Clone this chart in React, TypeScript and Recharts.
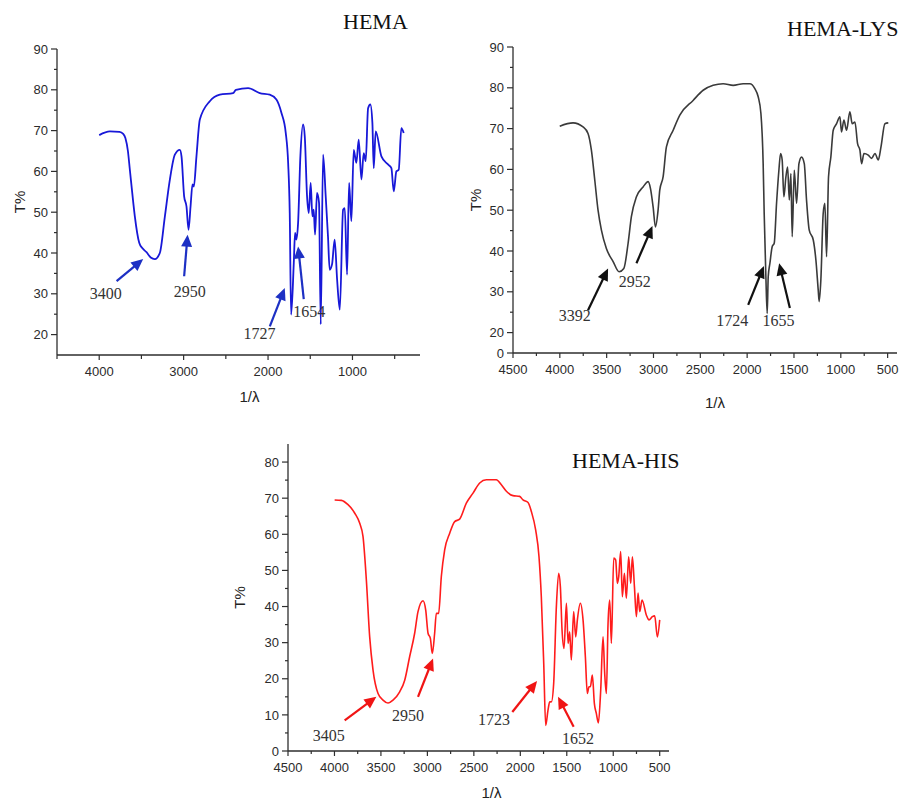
import { LineChart, Line, XAxis, YAxis, ReferenceLine, ReferenceDot } from 'recharts';

type Pt = [number, number];

// FTIR spectra: [wavenumber (cm-1), transmittance %]
const hemaSpectrum: Pt[] = [
  [4000, 68.9], [3874, 69.8], [3760, 69.7], [3716, 69.2], [3690, 68.2], [3660, 65], [3637, 60.4],
  [3600, 53], [3578, 49], [3526, 42.5], [3490, 41.2], [3440, 40.2], [3390, 38.9], [3341, 38.5],
  [3282, 40], [3222, 49], [3163, 58], [3104, 64.1], [3045, 65.3], [3025, 63.7], [2994, 53.9],
  [2966, 51.4], [2942, 45.7], [2918, 51.4], [2895, 56.8], [2879, 56.3], [2848, 63.7], [2808, 72.7],
  [2690, 77.2], [2571, 78.8], [2414, 79.2], [2380, 80], [2236, 80.4], [2098, 79.2], [1980, 78.8],
  [1901, 77.6], [1841, 74.3], [1790, 69.4], [1762, 62.1], [1743, 49.8], [1727, 24.9], [1695, 37.6],
  [1680, 44.9], [1664, 43.3], [1644, 47.4], [1617, 63.7], [1585, 71.5], [1565, 68.6], [1538, 53.9],
  [1518, 49.8], [1495, 57.2], [1475, 49], [1459, 50.6], [1443, 44.5], [1420, 54.7], [1396, 52.3],
  [1376, 22.5], [1348, 64.1], [1317, 53.9], [1290, 44.1], [1270, 35.9], [1242, 37.2], [1211, 43.3],
  [1182, 33.5], [1150, 26.1], [1111, 50.6], [1091, 51], [1064, 34.7], [1040, 57.2], [1013, 47.8],
  [985, 65.3], [954, 62.1], [926, 67.8], [894, 58], [867, 64.5], [843, 62.5], [815, 75.5],
  [788, 76.4], [764, 71.9], [748, 60.8], [725, 69.8], [657, 63.7], [579, 61.7], [539, 60.8],
  [511, 55.1], [480, 60], [452, 60.4], [421, 70.6], [393, 69.4],
];

const lysSpectrum: Pt[] = [
  [4001, 70.6], [3859, 71.4], [3752, 70.4], [3699, 68.8], [3663, 64.7], [3627, 57.4], [3592, 50],
  [3556, 45.1], [3503, 40.6], [3431, 37.4], [3367, 34.9], [3317, 35.7], [3271, 41.9], [3236, 48.4],
  [3182, 53.3], [3111, 55.7], [3057, 57], [3032, 55.3], [3004, 50.8], [2979, 45.9], [2951, 50],
  [2933, 54.9], [2897, 58.2], [2862, 65.5], [2790, 69.6], [2719, 73.3], [2577, 76.9], [2470, 79.4],
  [2363, 80.6], [2256, 81], [2149, 80.6], [2042, 81], [1971, 81], [1918, 79.8], [1882, 77.8],
  [1853, 73.7], [1829, 61.4], [1818, 49.2], [1800, 33.7], [1786, 24.7], [1775, 33.7], [1757, 37],
  [1732, 41.1], [1711, 41.9], [1686, 51.7], [1661, 59.8], [1643, 63.9], [1626, 62.3], [1608, 53.3],
  [1586, 58.2], [1568, 60.6], [1550, 52.5], [1533, 59], [1519, 43.5], [1497, 59.8], [1472, 51.7],
  [1447, 61.4], [1419, 63], [1390, 61.4], [1366, 52.5], [1337, 45.1], [1294, 42.7], [1266, 37.8],
  [1241, 30.4], [1231, 27.6], [1213, 32.9], [1188, 49.2], [1170, 51.7], [1152, 38.6], [1131, 58.2],
  [1106, 63.1], [1081, 69.6], [1045, 71.2], [1010, 72.9], [992, 69.2], [967, 72.1], [939, 69.6],
  [903, 74.1], [878, 71.2], [849, 71.6], [821, 66.3], [796, 64.7], [778, 61.4], [753, 63.9],
  [707, 63.5], [671, 62.7], [635, 63.9], [600, 62.3], [571, 65.5], [529, 71.2], [493, 71.4],
];

const hisSpectrum: Pt[] = [
  [3998, 69.5], [3926, 69.4], [3854, 68.2], [3783, 65.9], [3729, 63.1], [3693, 59.4], [3657, 47.4],
  [3621, 31.6], [3585, 22.4], [3531, 15.9], [3478, 14.1], [3424, 13.3], [3370, 14.1], [3298, 16.4],
  [3244, 19.6], [3191, 26.1], [3137, 32.6], [3101, 38.6], [3047, 41.6], [3018, 39], [2993, 32.6],
  [2968, 31.2], [2947, 27], [2922, 32.6], [2904, 38.1], [2879, 38.1], [2850, 48.3], [2814, 55.7],
  [2760, 60.3], [2706, 63.5], [2653, 64.2], [2581, 68.6], [2509, 71.4], [2437, 74.2], [2366, 75.1],
  [2258, 75.1], [2204, 73.7], [2150, 71.9], [2079, 70.7], [2007, 70.5], [1971, 69.5], [1917, 68.8],
  [1881, 66.3], [1835, 61.2], [1799, 53.8], [1774, 42.7], [1748, 24.2], [1727, 7.1], [1702, 11.3],
  [1684, 13.6], [1666, 13.6], [1641, 18.7], [1612, 40], [1587, 49.2], [1569, 45.5], [1551, 33.5],
  [1530, 28.4], [1504, 40.9], [1486, 29.8], [1469, 33], [1451, 25.2], [1426, 38.6], [1404, 31.6],
  [1386, 36.3], [1354, 40.9], [1325, 36.3], [1300, 26.1], [1279, 15.9], [1261, 17.8], [1246, 17.8],
  [1225, 21], [1203, 13.1], [1182, 10.4], [1160, 7.8], [1135, 16.8], [1110, 31.6], [1092, 21.5],
  [1074, 15.9], [1056, 35.3], [1038, 41.8], [1020, 29.8], [995, 53.4], [974, 52.9], [956, 46.4],
  [941, 48.3], [920, 55.2], [902, 42.7], [880, 49.2], [859, 42.3], [834, 53.8], [812, 46.4],
  [794, 53.8], [772, 45.5], [751, 37.2], [733, 43.7], [715, 38.6], [690, 41.8], [643, 37.6],
  [615, 36.3], [579, 37.2], [554, 37.4], [525, 31.6], [500, 36.3],
];

// peak callouts: label position, arrow tail (x1,y1) -> head (x2,y2), in data units
const hemaPeaks = [
  { text: '3400', lx: 3923, ly: 30, x1: 3794, y1: 33.1, x2: 3479, y2: 38.5 },
  { text: '2950', lx: 2926, ly: 30.5, x1: 2994, y1: 34.3, x2: 2953, y2: 44.5 },
  { text: '1727', lx: 2101, ly: 20.4, x1: 1979, y1: 22, x2: 1802, y2: 31.4 },
  { text: '1654', lx: 1512, ly: 25.7, x1: 1577, y1: 28.7, x2: 1644, y2: 41.6 },
];
const lysPeaks = [
  { text: '3392', lx: 3841, ly: 24.3, x1: 3699, y1: 25.5, x2: 3485, y2: 35.7 },
  { text: '2952', lx: 3200, ly: 32.5, x1: 3182, y1: 37, x2: 3011, y2: 46.1 },
  { text: '1724', lx: 2160, ly: 23.1, x1: 1989, y1: 26.8, x2: 1821, y2: 36.3 },
  { text: '1655', lx: 1665, ly: 23.1, x1: 1544, y1: 26, x2: 1658, y2: 37 },
];
const hisPeaks = [
  { text: '3405', lx: 4062, ly: 4.3, x1: 3890, y1: 8.5, x2: 3549, y2: 15 },
  { text: '2950', lx: 3209, ly: 9.9, x1: 3101, y1: 15, x2: 2939, y2: 25.6 },
  { text: '1723', lx: 2283, ly: 8.7, x1: 2086, y1: 10.8, x2: 1820, y2: 19.4 },
  { text: '1652', lx: 1379, ly: 3.4, x1: 1426, y1: 6.7, x2: 1594, y2: 15 },
];

// axis ticks
const hemaXTicks = [4500, 4000, 3500, 3000, 2500, 2000, 1500, 1000, 500];
const hemaXLabels = [4000, 3000, 2000, 1000];
const hemaYTicks = [20, 25, 30, 35, 40, 45, 50, 55, 60, 65, 70, 75, 80, 85, 90];
const hemaYLabels = [20, 30, 40, 50, 60, 70, 80, 90];

const wideXTicks = [4500, 4250, 4000, 3750, 3500, 3250, 3000, 2750, 2500, 2250, 2000, 1750, 1500, 1250, 1000, 750, 500];
const wideXLabels = [4500, 4000, 3500, 3000, 2500, 2000, 1500, 1000, 500];

const lysYTicks = [15, 20, 25, 30, 35, 40, 45, 50, 55, 60, 65, 70, 75, 80, 85, 90];
const lysYLabels = [15, 20, 30, 40, 50, 60, 70, 80, 90];
const lysYNames: Record<number, string> = { 15: '0' }; // broken axis, bottom reads 0

const hisYTicks = [0, 5, 10, 15, 20, 25, 30, 35, 40, 45, 50, 55, 60, 65, 70, 75, 80];
const hisYLabels = [0, 10, 20, 30, 40, 50, 60, 70, 80];

const AXIS = '#2e2e2e';
const SANS = '"Liberation Sans", Arial, sans-serif';
const SERIF = '"Liberation Serif", "Times New Roman", serif';

const toRows = (pts: Pt[]) => pts.map(([x, y]) => ({ x, y }));

function XTick(props: any) {
  const { x, y, payload, labels, minorLen } = props;
  const major = labels.includes(payload.value);
  return (
    <g>
      <line x1={x} y1={y} x2={x} y2={y + (major ? 5 : minorLen)} stroke={AXIS} strokeWidth={1.2} />
      {major && (
        <text x={x} y={y + 21} textAnchor="middle" fontSize={13} fill="#2b2b2b" fontFamily={SANS}>
          {payload.value}
        </text>
      )}
    </g>
  );
}

function YTick(props: any) {
  const { x, y, payload, labels, names } = props;
  const v = payload.value;
  const major = labels.includes(v);
  return (
    <g>
      <line x1={x - (major ? 6 : 3)} y1={y} x2={x} y2={y} stroke={AXIS} strokeWidth={1.2} />
      {major && (
        <text x={x - 9} y={y} dy="0.36em" textAnchor="end" fontSize={13} fill="#2b2b2b" fontFamily={SANS}>
          {names && names[v] !== undefined ? names[v] : v}
        </text>
      )}
    </g>
  );
}

function arrow(color: string) {
  return (p: any) => {
    const x1 = Number(p.x1), y1 = Number(p.y1), x2 = Number(p.x2), y2 = Number(p.y2);
    const len = Math.hypot(x2 - x1, y2 - y1) || 1;
    const ux = (x2 - x1) / len, uy = (y2 - y1) / len;
    const hl = 12, hw = 5.5;
    const bx = x2 - ux * hl, by = y2 - uy * hl;
    const pts = `${x2},${y2} ${bx - uy * hw},${by + ux * hw} ${bx + uy * hw},${by - ux * hw}`;
    return (
      <g>
        <line x1={x1} y1={y1} x2={bx + ux} y2={by + uy} stroke={color} strokeWidth={2.2} />
        <polygon points={pts} fill={color} />
      </g>
    );
  };
}

const peakText = (text: string) => (p: any) => (
  <text x={p.cx} y={p.cy} dy="0.35em" textAnchor="middle" fontSize={16} fill="#333" fontFamily={SERIF}>
    {text}
  </text>
);

interface PanelProps {
  left: number;
  top: number;
  width: number;
  height: number;
  margin: { top: number; right: number; bottom: number; left: number };
  yWidth: number;
  data: Pt[];
  color: string;
  lineWidth: number;
  arrowColor: string;
  peaks: typeof hemaPeaks;
  xDomain: [number, number];
  yDomain: [number, number];
  xTicks: number[];
  xLabels: number[];
  minorLen: number;
  yTicks: number[];
  yLabels: number[];
  yNames?: Record<number, string>;
  xTitleOffset: number;
  xTitleDx: number;
  yTitleOffset: number;
}

function Panel(p: PanelProps) {
  return (
    <div style={{ position: 'absolute', left: p.left, top: p.top }}>
      <LineChart width={p.width} height={p.height} data={toRows(p.data)} margin={p.margin}>
        <XAxis
          dataKey="x"
          type="number"
          reversed
          domain={p.xDomain}
          ticks={p.xTicks}
          interval={0}
          height={30}
          tickSize={0}
          tickMargin={0}
          tickLine={false}
          axisLine={{ stroke: AXIS, strokeWidth: 1.3 }}
          tick={(t: any) => <XTick {...t} labels={p.xLabels} minorLen={p.minorLen} />}
          label={{
            value: '1/λ',
            position: 'bottom',
            offset: p.xTitleOffset,
            dx: p.xTitleDx,
            fontSize: 15,
            fill: '#222',
            fontFamily: SANS,
          }}
        />
        <YAxis
          type="number"
          domain={p.yDomain}
          ticks={p.yTicks}
          interval={0}
          width={p.yWidth}
          tickSize={0}
          tickMargin={0}
          tickLine={false}
          axisLine={{ stroke: AXIS, strokeWidth: 1.3 }}
          tick={(t: any) => <YTick {...t} labels={p.yLabels} names={p.yNames} />}
          label={{
            value: 'T%',
            angle: -90,
            position: 'insideLeft',
            offset: p.yTitleOffset,
            fontSize: 15,
            fill: '#222',
            fontFamily: SANS,
            style: { textAnchor: 'middle' },
          }}
        />
        <Line
          type="monotone"
          dataKey="y"
          stroke={p.color}
          strokeWidth={p.lineWidth}
          dot={false}
          activeDot={false}
          isAnimationActive={false}
        />
        {p.peaks.map((pk) => (
          <ReferenceLine
            key={'a' + pk.text}
            segment={[{ x: pk.x1, y: pk.y1 }, { x: pk.x2, y: pk.y2 }]}
            shape={arrow(p.arrowColor)}
          />
        ))}
        {p.peaks.map((pk) => (
          <ReferenceDot key={'t' + pk.text} x={pk.lx} y={pk.ly} r={0} shape={peakText(pk.text)} />
        ))}
      </LineChart>
    </div>
  );
}

export default function App() {
  return (
    <div style={{ position: 'absolute', left: 0, top: 0, width: 906, height: 803, background: '#fff', overflow: 'hidden' }}>
      <Panel
        left={0}
        top={0}
        width={440}
        height={420}
        margin={{ top: 49, right: 20, bottom: 35, left: 0 }}
        yWidth={57}
        data={hemaSpectrum}
        color="#1818d8"
        lineWidth={1.8}
        arrowColor="#1d30c4"
        peaks={hemaPeaks}
        xDomain={[200, 4500]}
        yDomain={[15, 90]}
        xTicks={hemaXTicks}
        xLabels={hemaXLabels}
        minorLen={4}
        yTicks={hemaYTicks}
        yLabels={hemaYLabels}
        xTitleOffset={6}
        xTitleDx={11}
        yTitleOffset={20}
      />
      <Panel
        left={460}
        top={0}
        width={446}
        height={420}
        margin={{ top: 47, right: 9, bottom: 37, left: 0 }}
        yWidth={53}
        data={lysSpectrum}
        color="#3a3a3a"
        lineWidth={1.6}
        arrowColor="#111"
        peaks={lysPeaks}
        xDomain={[400, 4500]}
        yDomain={[15, 90]}
        xTicks={wideXTicks}
        xLabels={wideXLabels}
        minorLen={3}
        yTicks={lysYTicks}
        yLabels={lysYLabels}
        yNames={lysYNames}
        xTitleOffset={14}
        xTitleDx={10}
        yTitleOffset={16}
      />
      <Panel
        left={220}
        top={420}
        width={460}
        height={383}
        margin={{ top: 24, right: 11, bottom: 22, left: 0 }}
        yWidth={68}
        data={hisSpectrum}
        color="#ff1c1c"
        lineWidth={1.6}
        arrowColor="#f01414"
        peaks={hisPeaks}
        xDomain={[400, 4500]}
        yDomain={[0, 85]}
        xTicks={wideXTicks}
        xLabels={wideXLabels}
        minorLen={3}
        yTicks={hisYTicks}
        yLabels={hisYLabels}
        xTitleOffset={6}
        xTitleDx={13}
        yTitleOffset={20}
      />
      <svg width={906} height={803} style={{ position: 'absolute', left: 0, top: 0, pointerEvents: 'none' }}>
        <text x={343} y={29} fontSize={22} fill="#111" fontFamily={SERIF}>HEMA</text>
        <text x={787} y={36} fontSize={22} fill="#111" fontFamily={SERIF}>HEMA-LYS</text>
        <text x={572} y={468} fontSize={22} fill="#111" fontFamily={SERIF}>HEMA-HIS</text>
      </svg>
    </div>
  );
}
